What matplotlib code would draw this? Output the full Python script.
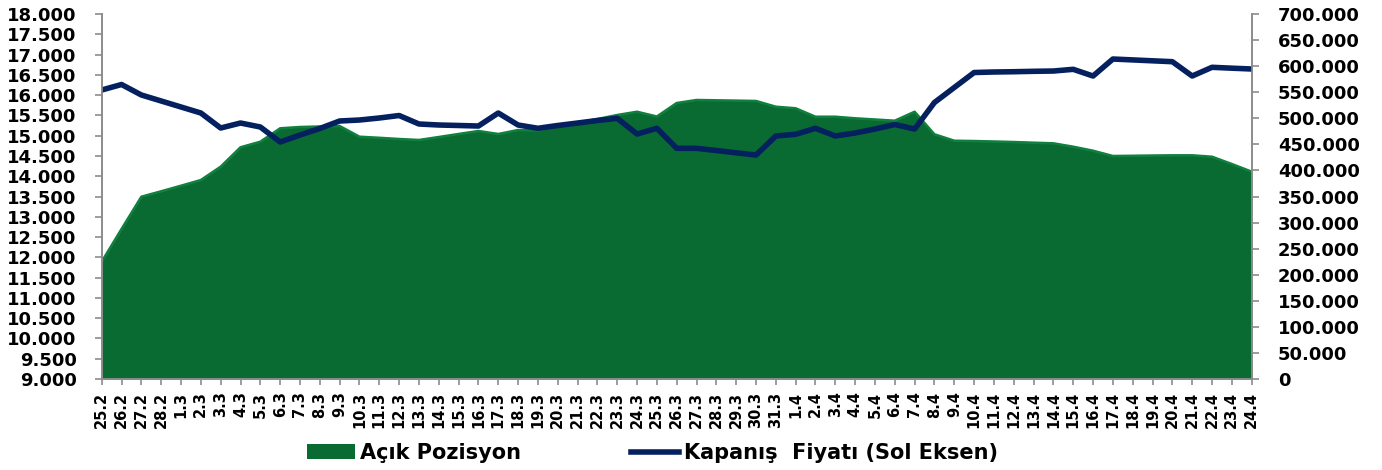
import matplotlib
matplotlib.use('Agg')
import matplotlib.pyplot as plt
from matplotlib.ticker import FuncFormatter, MultipleLocator

# tarih etiketleri (25.2 - 24.4)
tarihler = ['25.2', '26.2', '27.2', '28.2'] + \
    ['%d.3' % g for g in range(1, 32)] + ['%d.4' % g for g in range(1, 25)]

# Kapanış fiyatı (sol eksen)
kapanis = [16126, 16262, 16003, 15855, 15707, 15559, 15189, 15312, 15214, 14844,
           15016, 15177, 15362, 15386, 15436, 15497, 15288, 15263, 15251, 15238,
           15559, 15263, 15182, 15251, 15312, 15374, 15428, 15041, 15182, 14688,
           14688, 14634, 14577, 14523, 14992, 15034, 15182, 14992, 15066, 15164,
           15275, 15164, 15818, 16188, 16557, 16570, 16577, 16587, 16594, 16636,
           16471, 16890, 16868, 16846, 16824, 16471, 16686, 16664, 16644]

# Açık pozisyon (sağ eksen)
acik_poz = [225000, 287700, 349600, 360000, 370700, 381600, 407200, 444400, 455100, 480800,
            483300, 484300, 485200, 464700, 462600, 460300, 458400, 464100, 469900, 475600,
            469900, 477500, 476600, 485200, 491900, 498600, 506300, 512600, 503400, 529300,
            535100, 534500, 533900, 533200, 522200, 519200, 503000, 503000, 500000, 497700,
            495400, 512600, 469300, 457000, 456400, 455500, 454500, 453200, 452000, 445500,
            437800, 427700, 428100, 428600, 429000, 429000, 426300, 412300, 397600]

x = list(range(len(tarihler)))

yesil = '#0a6b32'
yesil_kenar = '#10803e'
lacivert = '#04205f'
gri = '#8c8c8c'

fig = plt.figure(figsize=(13.82, 4.70), dpi=100)
ax = fig.add_axes([0.0736, 0.1936, 0.8321, 0.7766])
ax2 = ax.twinx()

ax2.fill_between(x, acik_poz, 0, color=yesil, linewidth=0, label='Açık Pozisyon')
ax2.plot(x, acik_poz, color=yesil_kenar, linewidth=1.8)
ax.plot(x, kapanis, color=lacivert, linewidth=4, solid_joinstyle='round',
        label='Kapanış  Fiyatı (Sol Eksen)')

ax.set_zorder(ax2.get_zorder() + 1)
ax.patch.set_visible(False)

ax.set_xlim(0, len(tarihler) - 1)
ax.set_ylim(9000, 18000)
ax2.set_ylim(0, 700000)
ax.yaxis.set_major_locator(MultipleLocator(500))
ax2.yaxis.set_major_locator(MultipleLocator(50000))

binlik = FuncFormatter(lambda v, p: '{:,.0f}'.format(v).replace(',', '.'))
ax.yaxis.set_major_formatter(binlik)
ax2.yaxis.set_major_formatter(binlik)

ax.set_xticks(x)
ax.set_xticklabels(tarihler, rotation=90, va='top', ha='center')

for a in (ax, ax2):
    a.spines['top'].set_visible(False)
    for s in ('left', 'right', 'bottom'):
        a.spines[s].set_color(gri)
        a.spines[s].set_linewidth(1.2)
    a.tick_params(axis='y', colors=gri, labelcolor='black', length=5, width=1.2,
                  labelsize=13)
    for t in a.get_yticklabels():
        t.set_fontweight('bold')

ax.tick_params(axis='y', pad=13)
ax2.tick_params(axis='y', pad=14)
ax.tick_params(axis='x', colors=gri, labelcolor='black', length=4, width=1.2,
               labelsize=10.5, pad=5)
for t in ax.get_xticklabels():
    t.set_fontweight('bold')

h2, l2 = ax2.get_legend_handles_labels()
h1, l1 = ax.get_legend_handles_labels()
fig.legend(h2 + h1, l2 + l1, loc='center', bbox_to_anchor=(0.472, 0.036), ncol=2,
           frameon=False, prop={'weight': 'bold', 'size': 15},
           handlelength=2.3, handletextpad=0.24, columnspacing=5.3)

fig.savefig('out.png', dpi=100)
